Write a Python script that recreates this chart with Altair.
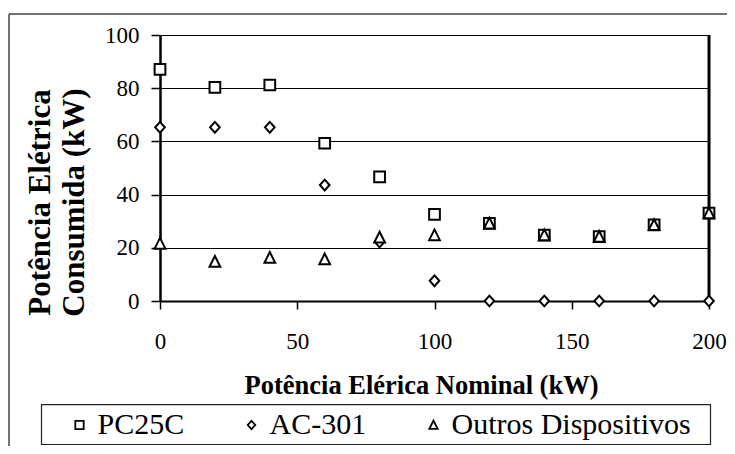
import altair as alt
import pandas as pd

# ---- data ----
x_vals = [0, 20, 40, 60, 80, 100, 120, 140, 160, 180, 200]
pc25c = [87.1, 80.3, 81.2, 59.3, 46.7, 32.6, 29.2, 24.8, 24.2, 28.6, 33.0]
ac301 = [65.3, 65.3, 65.3, 43.6, 22.2, 7.6, 0, 0, 0, 0, 0]
outros = [21.6, 14.8, 16.3, 15.7, 23.9, 24.8, 29.2, 24.8, 24.2, 28.6, 33.0]
series = ["PC25C", "AC-301", "Outros Dispositivos"]

x_ticks = [0, 50, 100, 150, 200]
y_ticks = [0, 20, 40, 60, 80, 100]

x_title = "Potência Elérica Nominal (kW)"
y_title = ["Potência Elétrica", "Consumida  (kW)"]

shapes = ["square", "M0,-1L0.9,0L0,1L-0.9,0Z", "M0,-1.05L1,0.95L-1,0.95Z"]

rows = []
for name, vals in zip(series, [pc25c, ac301, outros]):
    for xv, yv in zip(x_vals, vals):
        rows.append({"serie": name, "nominal": xv, "consumida": yv})
df = pd.DataFrame(rows)

FONT = "Liberation Serif"
W, H = 549, 266
one = pd.DataFrame({"k": [0]})

legend = alt.Legend(
    title=None, orient="none", direction="horizontal",
    legendX=-95.5, legendY=375, padding=0,
    labelFont=FONT, labelFontSize=30, labelColor="black", labelLimit=400,
    labelOffset=3, columnPadding=52,
    symbolSize=70, symbolStrokeWidth=1.8, symbolFillColor="white",
)

points = alt.Chart(df).mark_point(
    filled=False, fill="white", strokeWidth=2, size=115, opacity=1
).encode(
    x=alt.X(
        "nominal:Q",
        scale=alt.Scale(domain=[0, 200], nice=False),
        axis=alt.Axis(
            values=x_ticks, grid=False, tickSize=8, tickWidth=1.5, tickColor="black",
            domainColor="black", domainWidth=2,
            labelFont=FONT, labelFontSize=23, labelColor="black", labelPadding=21,
            labelFlush=False,
            title=x_title, titleFont=FONT, titleFontSize=26.5, titleFontWeight="bold",
            titleColor="black", titleX=261, titleY=92, titleAlign="center",
            titleBaseline="alphabetic",
        ),
    ),
    y=alt.Y(
        "consumida:Q",
        scale=alt.Scale(domain=[0, 100], nice=False),
        axis=alt.Axis(
            values=y_ticks, grid=True, gridColor="black", gridWidth=1,
            tickSize=9, tickWidth=1.5, tickColor="black",
            domainColor="black", domainWidth=2.5,
            labelFont=FONT, labelFontSize=23, labelColor="black", labelPadding=12,
            labelFlush=False,
            title=y_title, titleFont=FONT, titleFontSize=31, titleFontWeight="bold",
            titleColor="black", titleAngle=270, titleX=-111, titleY=167,
            titleAlign="center", titleBaseline="alphabetic", titleLineHeight=34,
        ),
    ),
    shape=alt.Shape("serie:N", scale=alt.Scale(domain=series, range=shapes), legend=legend),
    stroke=alt.Stroke("serie:N", scale=alt.Scale(domain=series, range=["black"] * 3), legend=legend),
)

frame_left = alt.Chart(one).mark_rule(color="#444", strokeWidth=1.5).encode(
    x=alt.value(-151), y=alt.value(-21), y2=alt.value(430)
)
frame_top = alt.Chart(one).mark_rule(color="#444", strokeWidth=1.5).encode(
    x=alt.value(-151), x2=alt.value(600), y=alt.value(-21)
)
legend_box = alt.Chart(one).mark_rect(fill="white", stroke="#222", strokeWidth=1.2).encode(
    x=alt.value(-118.5), x2=alt.value(550.5), y=alt.value(369.7), y2=alt.value(409.5)
)
right_border = alt.Chart(one).mark_rule(color="black", strokeWidth=3).encode(
    x=alt.value(W), y=alt.value(0), y2=alt.value(H)
)

chart = alt.layer(frame_left, frame_top, legend_box, right_border, points).properties(
    width=W, height=H,
    padding={"left": 152, "top": 27, "right": 18, "bottom": 145},
    autosize=alt.AutoSizeParams(type="none"),
    background="white",
).configure_view(stroke=None)

chart.save("out.html", embed_options={"renderer": "svg", "actions": False})
